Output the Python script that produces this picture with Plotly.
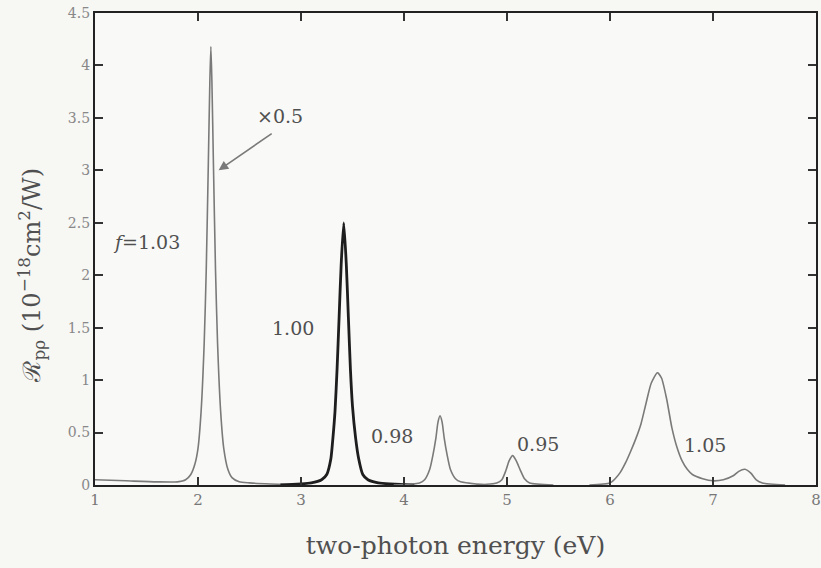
import plotly.graph_objects as go

# f = 1.03 curve (plotted x0.5)
x103 = [1.0, 1.3, 1.6, 1.8, 1.88, 1.93, 1.97, 2.0, 2.03, 2.06, 2.08, 2.10, 2.115, 2.125,
        2.135, 2.15, 2.17, 2.19, 2.22, 2.25, 2.29, 2.33, 2.4, 2.5, 2.7, 3.0]
y103 = [0.05, 0.04, 0.03, 0.03, 0.05, 0.1, 0.2, 0.35, 0.7, 1.35, 2.05, 3.05, 3.85, 4.18,
        3.85, 3.05, 2.05, 1.35, 0.7, 0.35, 0.15, 0.07, 0.03, 0.02, 0.01, 0.0]

# f = 1.00 curve
x100 = [2.8, 3.1, 3.2, 3.25, 3.29, 3.31, 3.33, 3.35, 3.37, 3.39, 3.415, 3.44, 3.46, 3.48,
        3.50, 3.53, 3.56, 3.60, 3.65, 3.75, 4.1]
y100 = [0.0, 0.02, 0.05, 0.1, 0.25, 0.45, 0.7, 1.1, 1.6, 2.1, 2.5, 2.1, 1.6, 1.1,
        0.75, 0.45, 0.25, 0.1, 0.05, 0.02, 0.0]

# f = 0.98 curve
x098 = [3.9, 4.15, 4.2, 4.25, 4.28, 4.31, 4.33, 4.35, 4.37, 4.39, 4.42, 4.45, 4.5, 4.55, 4.8]
y098 = [0.0, 0.02, 0.05, 0.15, 0.28, 0.45, 0.6, 0.66, 0.6, 0.45, 0.28, 0.15, 0.06, 0.03, 0.0]

# f = 0.95 curve
x095 = [4.7, 4.9, 4.95, 4.99, 5.02, 5.055, 5.09, 5.13, 5.17, 5.22, 5.45]
y095 = [0.0, 0.02, 0.05, 0.14, 0.23, 0.28, 0.23, 0.14, 0.06, 0.02, 0.0]

# f = 1.05 curve
x105 = [5.8, 6.0, 6.05, 6.1, 6.15, 6.2, 6.25, 6.3, 6.35, 6.4, 6.46, 6.5, 6.55, 6.6, 6.65,
        6.7, 6.75, 6.8, 6.9, 7.0, 7.1, 7.2, 7.25, 7.31, 7.37, 7.42, 7.48, 7.7]
y105 = [0.0, 0.02, 0.06, 0.12, 0.21, 0.32, 0.44, 0.58, 0.78, 0.97, 1.07, 1.02, 0.82, 0.55, 0.36,
        0.23, 0.15, 0.1, 0.06, 0.04, 0.05, 0.09, 0.13, 0.15, 0.11, 0.05, 0.02, 0.0]

x_ticks = [1, 2, 3, 4, 5, 6, 7, 8]
y_ticks = [0, 0.5, 1, 1.5, 2, 2.5, 3, 3.5, 4, 4.5]
y_tick_text = ["0", "0.5", "1", "1.5", "2", "2.5", "3", "3.5", "4", "4.5"]

labels = [
    ("<i>f</i>=1.03", 1.5, 2.32),
    ("1.00", 2.92, 1.5),
    ("0.98", 3.88, 0.47),
    ("0.95", 5.3, 0.39),
    ("1.05", 6.92, 0.38),
]

FONT = "DejaVu Serif"
GRAY = "#7a7a7a"
TXT = "#505050"

fig = go.Figure()
line_kw = dict(shape="spline", smoothing=0.6)
fig.add_trace(go.Scatter(x=x103, y=y103, mode="lines", line=dict(color=GRAY, width=1.6, **line_kw)))
fig.add_trace(go.Scatter(x=x100, y=y100, mode="lines", line=dict(color="#1e1e1e", width=2.8, **line_kw)))
fig.add_trace(go.Scatter(x=x098, y=y098, mode="lines", line=dict(color=GRAY, width=1.6, **line_kw)))
fig.add_trace(go.Scatter(x=x095, y=y095, mode="lines", line=dict(color=GRAY, width=1.6, **line_kw)))
fig.add_trace(go.Scatter(x=x105, y=y105, mode="lines", line=dict(color=GRAY, width=1.6, **line_kw)))

for txt, xx, yy in labels:
    fig.add_annotation(x=xx, y=yy, text=txt, showarrow=False,
                       font=dict(family=FONT, size=19, color=TXT))

fig.add_annotation(x=2.2, y=3.0, ax=2.73, ay=3.36, axref="x", ayref="y",
                   text="", showarrow=True, arrowhead=2, arrowsize=1.2, arrowwidth=1.6,
                   arrowcolor=GRAY)
fig.add_annotation(x=2.8, y=3.52, text="×0.5", showarrow=False,
                   font=dict(family=FONT, size=19, color=TXT))

# y-axis title placed as rotated text
fig.add_annotation(xref="paper", yref="paper", x=-0.088, y=0.445, xanchor="center", yanchor="middle",
                   textangle=-90, showarrow=False,
                   text="ℛ<sub>pρ</sub> (10<sup>−18</sup>cm<sup>2</sup>/W)",
                   font=dict(family=FONT, size=24, color=TXT))

fig.update_layout(
    width=821, height=568,
    margin=dict(l=95, r=0, t=13, b=83),
    paper_bgcolor="#f7f7f4", plot_bgcolor="#f9f9f7",
    showlegend=False,
    font=dict(family=FONT, color=TXT),
)
fig.update_xaxes(range=[1, 8], tickvals=x_ticks, ticks="inside", ticklen=8, tickwidth=1.5,
                 tickcolor="#333", showline=True, linecolor="#222", linewidth=2.2, mirror="ticks",
                 showgrid=False, zeroline=False, ticklabeloverflow="allow",
                 tickfont=dict(family=FONT, size=15, color="#777"),
                 title=dict(text="two-photon energy (eV)", font=dict(family=FONT, size=25, color=TXT), standoff=28))
fig.update_yaxes(range=[0, 4.5], tickvals=y_ticks, ticktext=y_tick_text, ticks="inside", ticklen=8,
                 tickwidth=1.5, tickcolor="#333", showline=True, linecolor="#222", linewidth=2.2,
                 mirror="ticks", showgrid=False, zeroline=False, ticklabeloverflow="allow",
                 tickfont=dict(family=FONT, size=14, color="#888"))

fig.write_html("out.html")
